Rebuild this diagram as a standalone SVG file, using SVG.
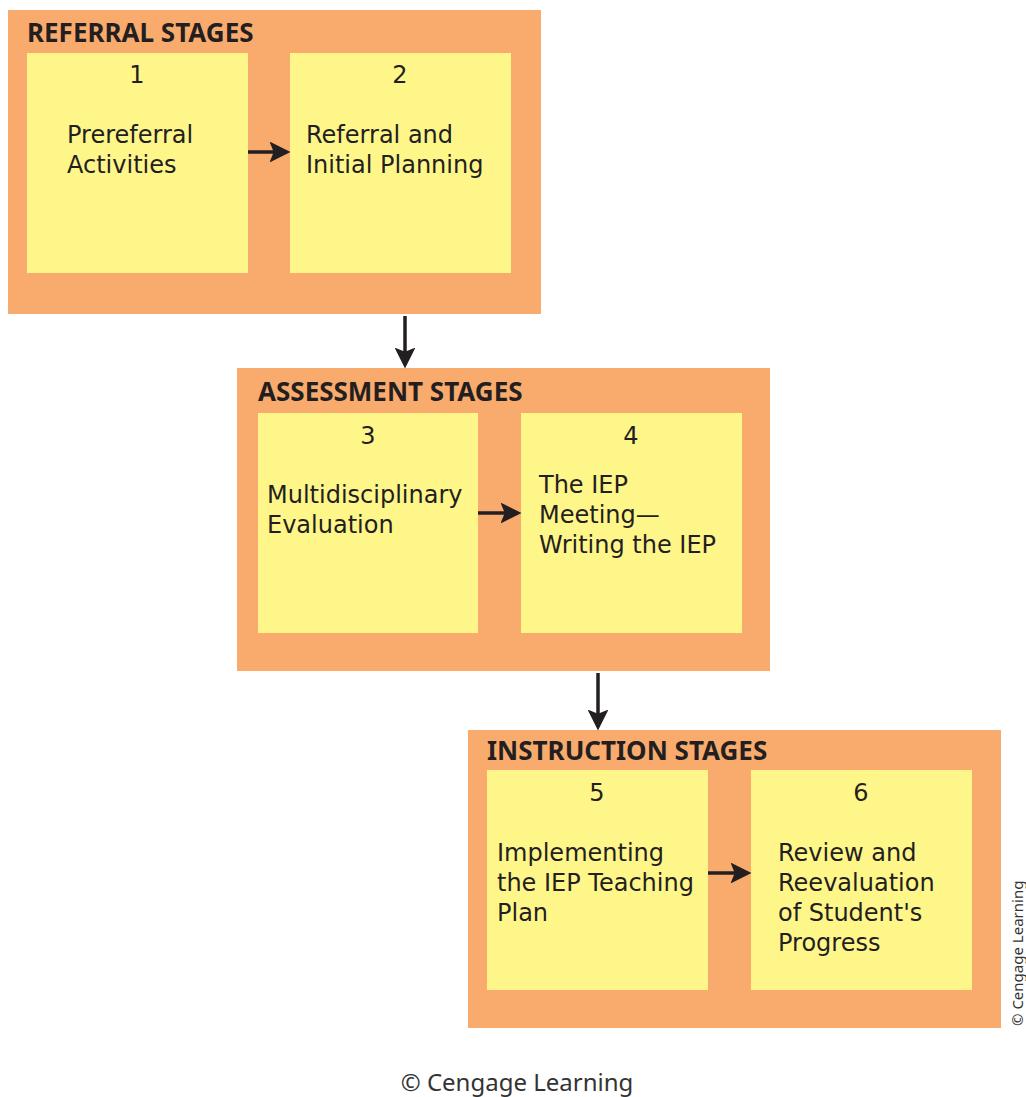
<svg xmlns="http://www.w3.org/2000/svg" width="1026" height="1097" viewBox="0 0 1026 1097">
<defs>
<style>
.panel{fill:#F9AA6D}
.box{fill:#FFF68A}
.title{font-family:"Noto Sans","DejaVu Sans",sans-serif;font-weight:bold;font-size:26px;fill:#231F20}
.t{font-family:"DejaVu Sans",sans-serif;font-size:24px;fill:#231F20}
.num{font-family:"DejaVu Sans",sans-serif;font-size:24px;fill:#231F20;text-anchor:middle}
.conn{stroke:#231F20;stroke-width:3.5;fill:none}
.credit{font-family:"Noto Sans","DejaVu Sans",sans-serif;fill:#333}
</style>
<marker id="ah" markerWidth="6" markerHeight="6" refX="5" refY="3" orient="auto" markerUnits="strokeWidth">
<path d="M0,0 L6,3 L0,6 L1.2,3 Z" fill="#231F20"/>
</marker>
</defs>
<rect width="1026" height="1097" fill="#fff"/>
<g id="referral-stages">
<rect class="panel" x="8" y="10" width="533" height="304"/>
<text class="title" x="27" y="42">REFERRAL STAGES</text>
</g>
<g id="stage1">
<rect class="box" x="27" y="53" width="221" height="220"/>
<text class="num" x="137" y="83">1</text>
<text class="t" x="67" y="143"><tspan x="67">Prereferral</tspan><tspan x="67" dy="30">Activities</tspan></text>
</g>
<g id="stage2">
<rect class="box" x="290" y="53" width="221" height="220"/>
<text class="num" x="400" y="83">2</text>
<text class="t" x="306" y="143"><tspan x="306">Referral and</tspan><tspan x="306" dy="30">Initial Planning</tspan></text>
</g>
<g id="assessment-stages">
<rect class="panel" x="237" y="368" width="533" height="303"/>
<text class="title" x="258" y="401">ASSESSMENT STAGES</text>
</g>
<g id="stage3">
<rect class="box" x="258" y="413" width="220" height="220"/>
<text class="num" x="368" y="444">3</text>
<text class="t" x="267" y="503"><tspan x="267">Multidisciplinary</tspan><tspan x="267" dy="30">Evaluation</tspan></text>
</g>
<g id="stage4">
<rect class="box" x="521" y="413" width="221" height="220"/>
<text class="num" x="631" y="444">4</text>
<text class="t" x="539" y="493"><tspan x="539">The IEP</tspan><tspan x="539" dy="30">Meeting—</tspan><tspan x="539" dy="30">Writing the IEP</tspan></text>
</g>
<g id="instruction-stages">
<rect class="panel" x="468" y="730" width="533" height="298"/>
<text class="title" x="487" y="760">INSTRUCTION STAGES</text>
</g>
<g id="stage5">
<rect class="box" x="487" y="770" width="221" height="220"/>
<text class="num" x="597" y="801">5</text>
<text class="t" x="497" y="861"><tspan x="497">Implementing</tspan><tspan x="497" dy="30">the IEP Teaching</tspan><tspan x="497" dy="30">Plan</tspan></text>
</g>
<g id="stage6">
<rect class="box" x="751" y="770" width="221" height="220"/>
<text class="num" x="861" y="801">6</text>
<text class="t" x="778" y="861"><tspan x="778">Review and</tspan><tspan x="778" dy="30">Reevaluation</tspan><tspan x="778" dy="30">of Student's</tspan><tspan x="778" dy="30">Progress</tspan></text>
</g>
<g id="connectors">
<line class="conn" x1="248" y1="152" x2="287" y2="152" marker-end="url(#ah)"/>
<line class="conn" x1="405" y1="316" x2="405" y2="365" marker-end="url(#ah)"/>
<line class="conn" x1="478" y1="513" x2="518" y2="513" marker-end="url(#ah)"/>
<line class="conn" x1="598" y1="673" x2="598" y2="727" marker-end="url(#ah)"/>
<line class="conn" x1="708" y1="873" x2="748" y2="873" marker-end="url(#ah)"/>
</g>
<text class="credit" x="0" y="0" font-size="15" transform="translate(1023,1026) rotate(-90)">© Cengage Learning</text>
<text class="credit" x="517" y="1091" font-size="24" text-anchor="middle">© Cengage Learning</text>
</svg>
